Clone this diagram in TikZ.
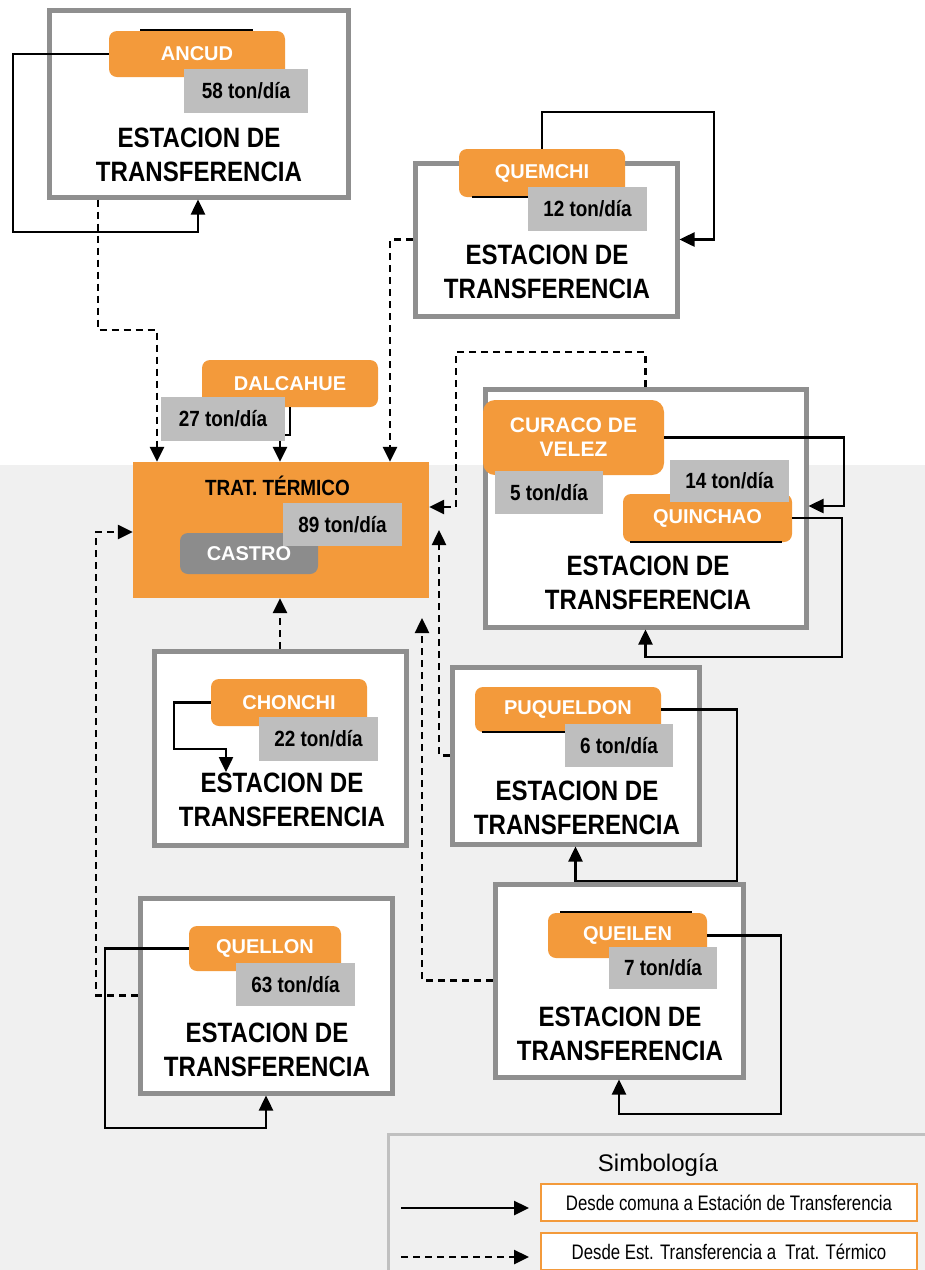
\documentclass[tikz,border=0pt]{standalone}
\usepackage{fontspec}
\setmainfont{Liberation Sans}
\newfontfamily\narrowf[FakeStretch=0.86]{Liberation Sans}
\newfontfamily\legf[FakeStretch=0.8]{Liberation Sans}
\usetikzlibrary{arrows.meta}
\definecolor{orng}{RGB}{243,154,59}
\definecolor{lgrey}{RGB}{190,190,190}
\definecolor{bgrey}{RGB}{143,143,143}
\definecolor{dgrey}{RGB}{140,140,140}
\definecolor{bgg}{RGB}{240,240,240}
\definecolor{legb}{RGB}{192,192,192}
\begin{document}
\begin{tikzpicture}[x=1pt,y=-1pt,
 station/.style={draw=bgrey, line width=5pt, fill=white, inner sep=0pt},
 lab/.style={fill=orng, rounded corners=8pt, inner sep=0pt, text=white, align=center, font=\bfseries\fontsize{20}{24}\selectfont},
 castrolab/.style={lab, fill=dgrey},
 ton/.style={fill=lgrey, inner sep=0pt, font=\narrowf\bfseries\fontsize{22}{26}\selectfont},
 est/.style={inner sep=0pt, align=center, font=\narrowf\bfseries\fontsize{28}{34}\selectfont},
 conn/.style={line width=2.5pt, -{Triangle[length=15pt,width=14pt]}},
 dconn/.style={conn, dash pattern=on 7pt off 5pt},
 thinl/.style={line width=1.5pt},
 legbox/.style={draw=orng, line width=2pt, fill=white, inner sep=0pt, minimum width=376pt, minimum height=37pt, font=\legf\fontsize{21}{24}\selectfont}
]
\useasboundingbox (0,0) rectangle (925,1270);
\fill[white] (0,0) rectangle (925,465);
\fill[bgg] (0,465) rectangle (925,1270);

% station boxes
\node[station, minimum width=299pt, minimum height=187pt] (ancudbox) at (198.5,103.5) {};
\node[station, minimum width=262pt, minimum height=153pt] (quemchibox) at (546,239.5) {};
\node[station, minimum width=321pt, minimum height=238pt] (curacobox) at (645.5,508) {};
\node[station, minimum width=252pt, minimum height=194pt] (chonchibox) at (280,748) {};
\node[station, minimum width=247pt, minimum height=177pt] (puqbox) at (575.5,755.5) {};
\node[station, minimum width=248pt, minimum height=193pt] (queilenbox) at (619,980.5) {};
\node[station, minimum width=252pt, minimum height=195pt] (quellonbox) at (266,995.5) {};

% treatment
\node[fill=orng, inner sep=0pt, minimum width=296pt, minimum height=136pt] (trat) at (281,530) {};

% legend frame
\draw[draw=legb, line width=3pt, fill=bgg] (388,1134) rectangle (935,1285);

% labels
\node[lab, minimum width=176pt, minimum height=46pt] (ancud) at (197,54) {ANCUD};
\node[lab, minimum width=166pt, minimum height=48pt] (quemchi) at (542,173) {QUEMCHI};
\node[lab, minimum width=176pt, minimum height=47pt] (dalcahue) at (290,383.5) {DALCAHUE};
\node[lab, rounded corners=12pt, minimum width=181pt, minimum height=75pt, font=\bfseries\fontsize{21}{24}\selectfont] (curaco) at (573.5,437.5) {CURACO DE\\VELEZ};
\node[lab, minimum width=169pt, minimum height=48pt] (quinchao) at (707.5,518) {QUINCHAO};
\node[lab, minimum width=156pt, minimum height=47pt] (chonchi) at (289,702.5) {CHONCHI};
\node[lab, minimum width=186pt, minimum height=45pt] (puq) at (568,709.5) {PUQUELDON};
\node[lab, minimum width=159pt, minimum height=45pt] (queilen) at (627.5,935.5) {QUEILEN};
\node[lab, minimum width=152pt, minimum height=45pt] (quellon) at (265,948.5) {QUELLON};
\node[castrolab, minimum width=138pt, minimum height=41pt] (castro) at (249,553.5) {CASTRO};

% solid connectors: comuna -> estacion
\draw[conn] (ancud.west) -| (13,232) -| (ancudbox.south -| 198,0);
\draw[conn] (quemchi.north) |- (714,112) |- (quemchibox.east);
\draw[conn] (dalcahue.south) -- (290,435) -| (trat.north -| 280,0);
\draw[conn] (curaco.east) -| (844,506) -- (curacobox.east |- 0,506);
\draw[conn] (quinchao.east) -| (842,657) -| (curacobox.south);
\coordinate (chonchitip) at (226,772);
\draw[conn] (chonchi.west) -| (174,749) -| (chonchitip);
\draw[conn] (puq.east) -| (737,881) -| (puqbox.south);
\draw[conn] (queilen.east) -| (781,1114) -| (queilenbox.south);
\draw[conn] (quellon.west) -| (105,1128) -| (quellonbox.south);

% dashed connectors: estacion -> trat
\draw[dconn] (ancudbox.south -| 98,0) -- (98,330) -| (trat.north -| 157,0);
\draw[dconn] (quemchibox.west) -| (trat.north -| 390,0);
\draw[dconn] (curacobox.north) |- (456,352) |- (trat.east |- 0,507);
\draw[dconn] (chonchibox.north) -- (chonchibox.north |- trat.south);
\coordinate (puqtip) at (439,530);
\draw[dconn] (puqbox.west) -| (puqtip);
\coordinate (queilentip) at (422,618);
\draw[dconn] (queilenbox.west) -| (queilentip);
\draw[dconn] (quellonbox.west) -| (96,532) -- (trat.west |- 0,532);

% small thin lines
\draw[thinl] (140,30) -- (253,30);
\draw[thinl] (472,197) -- (528,197);
\draw[thinl] (630,542) -- (782,542);
\draw[thinl] (482,732) -- (565,732);
\draw[thinl] (560,912) -- (692,912);

% tonnage boxes
\node[ton, minimum width=124pt, minimum height=44pt] (t58) at (246,91) {58 ton/día};
\node[ton, minimum width=119pt, minimum height=44pt] (t12) at (587.5,209) {12 ton/día};
\node[ton, minimum width=124pt, minimum height=44pt] (t27) at (223,419) {27 ton/día};
\node[ton, minimum width=119pt, minimum height=43pt] (t89) at (342.5,524.5) {89 ton/día};
\node[ton, minimum width=108pt, minimum height=43pt] (t5) at (549,492.5) {5 ton/día};
\node[ton, minimum width=119pt, minimum height=42pt] (t14) at (729.5,481) {14 ton/día};
\node[ton, minimum width=119pt, minimum height=44pt] (t22) at (318.5,739) {22 ton/día};
\node[ton, minimum width=108pt, minimum height=43pt] (t6) at (619,745.5) {6 ton/día};
\node[ton, minimum width=108pt, minimum height=42pt] (t7) at (663,968) {7 ton/día};
\node[ton, minimum width=119pt, minimum height=43pt] (t63) at (295.5,984.5) {63 ton/día};

% station texts
\node[est] (ancudtx) at (199,155) {ESTACION DE\\TRANSFERENCIA};
\node[est] (quemchitx) at (547,272) {ESTACION DE\\TRANSFERENCIA};
\node[est] (curacotx) at (648,583) {ESTACION DE\\TRANSFERENCIA};
\node[est] (chonchitx) at (282,800) {ESTACION DE\\TRANSFERENCIA};
\node[est] (puqtx) at (577,808) {ESTACION DE\\TRANSFERENCIA};
\node[est] (queilentx) at (620,1034) {ESTACION DE\\TRANSFERENCIA};
\node[est] (quellontx) at (267,1049.5) {ESTACION DE\\TRANSFERENCIA};
\node[inner sep=0pt, font=\narrowf\bfseries\fontsize{22}{26}\selectfont] (trattx) at (277.5,486) {TRAT. TÉRMICO};

% legend
\node[inner sep=0pt, font=\fontsize{24}{28}\selectfont] (simb) at (658,1165) {Simbología};
\node[legbox] (leg1) at (729,1202.5) {Desde comuna a Estación de Transferencia};
\node[legbox] (leg2) at (729,1251.5) {Desde Est. Transferencia a\ \ Trat. Térmico};
\coordinate (l1a) at (401,1208);
\coordinate (l1b) at (529,1208);
\coordinate (l2a) at (401,1257);
\coordinate (l2b) at (529,1257);
\draw[conn] (l1a) -- (l1b);
\draw[dconn] (l2a) -- (l2b);
\end{tikzpicture}
\end{document}
